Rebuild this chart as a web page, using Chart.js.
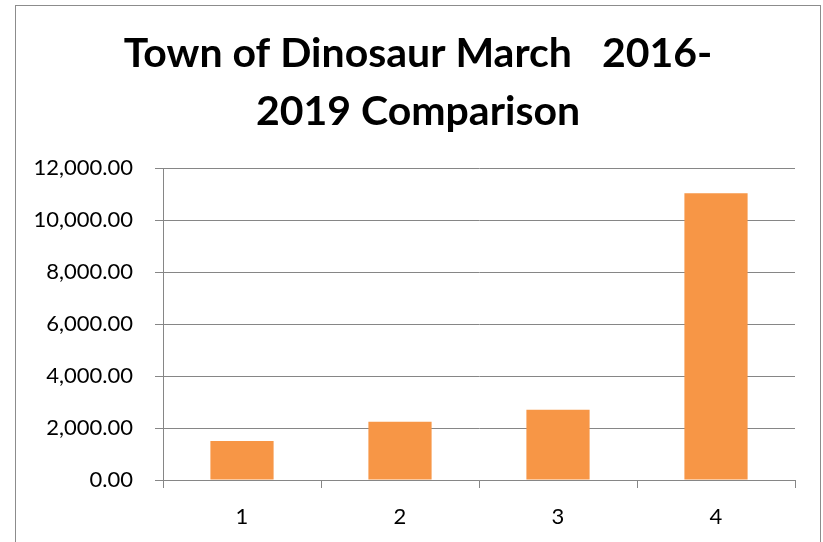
<!DOCTYPE html>
<html>
<head>
<meta charset="utf-8">
<script src="https://cdn.jsdelivr.net/npm/chart.js@4/dist/chart.umd.min.js"></script>
<style>
  html, body { margin: 0; padding: 0; background: #fff; }
  #wrap { position: relative; width: 823px; height: 542px; }
</style>
</head>
<body>
<div id="wrap"><canvas id="c" width="823" height="542"></canvas></div>
<script>
const categories = ['1', '2', '3', '4'];
const values = [1500, 2240, 2700, 11030];
const titleLines = ['Town of Dinosaur March   2016-', '2019 Comparison'];
const yMin = 0, yMax = 12000, yStep = 2000;

const FONT = 'Lato, "Open Sans", sans-serif';
const GRID = '#868686';

const framePlugin = {
  id: 'frame',
  afterLayout(chart) {
    // centre the title on the framed chart box
    if (chart.titleBlock) { chart.titleBlock.left = 41; }
  },
  beforeDraw(chart) {
    const ctx = chart.ctx;
    ctx.save();
    ctx.strokeStyle = '#8c8c8c';
    ctx.lineWidth = 1;
    ctx.strokeRect(15.5, 5.5, 805, 600);
    ctx.restore();
  }
};

new Chart(document.getElementById('c'), {
  type: 'bar',
  data: {
    labels: categories,
    datasets: [{
      data: values,
      backgroundColor: '#F79646',
      borderWidth: 0,
      categoryPercentage: 1.0,
      barPercentage: 0.4
    }]
  },
  plugins: [framePlugin],
  options: {
    responsive: false,
    animation: false,
    devicePixelRatio: 1,
    layout: { padding: { left: 0, right: 28, top: 19, bottom: 0 } },
    plugins: {
      legend: { display: false },
      tooltip: { enabled: false },
      title: {
        display: true,
        text: titleLines,
        color: '#000',
        font: { family: FONT, size: 41, weight: 'bold', lineHeight: 58 / 41 },
        padding: { top: 6, bottom: 27 }
      }
    },
    scales: {
      x: {
        afterFit(scale) { scale.height = 62; },
        grid: {
          display: true,
          offset: true,
          drawOnChartArea: false,
          drawTicks: true,
          tickLength: 8,
          color: GRID
        },
        border: { display: true, color: GRID, width: 1 },
        ticks: { color: '#000', font: { family: FONT, size: 22 }, padding: 16 }
      },
      y: {
        min: yMin,
        max: yMax,
        afterFit(scale) { scale.width = 163; },
        grid: { color: GRID, tickLength: 8, drawTicks: true },
        border: { display: true, color: GRID, width: 1 },
        ticks: {
          stepSize: yStep,
          color: '#000',
          font: { family: FONT, size: 22 },
          padding: 22,
          callback: v => Number(v).toLocaleString('en-US', { minimumFractionDigits: 2, maximumFractionDigits: 2 })
        }
      }
    }
  }
});
</script>
</body>
</html>
